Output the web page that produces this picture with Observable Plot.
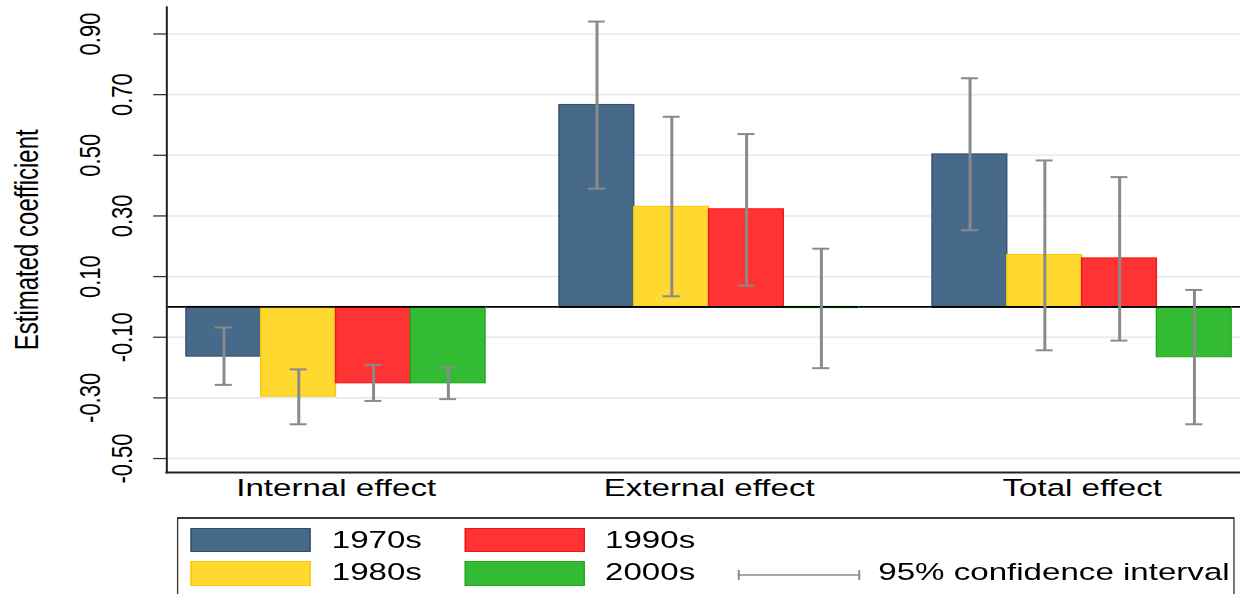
<!DOCTYPE html>
<html>
<head>
<meta charset="utf-8">
<script src="https://cdn.jsdelivr.net/npm/d3@7"></script>
<script src="https://cdn.jsdelivr.net/npm/@observablehq/plot@0.6"></script>
<style>
  html, body { margin: 0; padding: 0; background: #fff; overflow: hidden; width: 1240px; height: 594px; }
  #wrap { position: absolute; left: 0; top: 0; width: 918px; height: 594px;
          transform: scaleX(1.3508); transform-origin: 0 0;
          font-family: "Liberation Sans", Arial, sans-serif; color: #000; }
  #chart { position: relative; width: 918px; height: 510px; }
  #chart svg { display: block; position: absolute; left: 0; top: 0; }
  .lg-box { position: absolute; left: 130.8px; top: 517.3px; width: 783.4px; height: 100px;
            box-sizing: border-box; border: 1.5px solid #3a3a3a; border-top-width: 2px; }
  .lg-sw { position: absolute; box-sizing: border-box; border: 1px solid; }
  .lg-tx { position: absolute; font-size: 24.5px; line-height: 24.5px; height: 24.5px; white-space: nowrap; }
</style>
</head>
<body>
<div id="wrap">
  <div id="chart"></div>
  <div id="legend"></div>
</div>
<script>
// ---------------- data ----------------
const effects = ["Internal effect", "External effect", "Total effect"];
const decades = ["1970s", "1980s", "1990s", "2000s"];
const colors  = ["#486A8A", "#FFD830", "#FF3333", "#33BB33"];
const outlines = ["#2F4F70", "#F5C800", "#F51515", "#22A622"];

const coefInternal = [-0.164, -0.296, -0.252, -0.252];
const coefExternal = [0.666, 0.330, 0.322, -0.004];
const coefTotal    = [0.503, 0.171, 0.160, -0.166];

const ciLowInternal  = [-0.257, -0.387, -0.310, -0.304];
const ciHighInternal = [-0.068, -0.206, -0.191, -0.201];
const ciLowExternal  = [0.390, 0.035, 0.070, -0.202];
const ciHighExternal = [0.941, 0.627, 0.570, 0.192];
const ciLowTotal     = [0.253, -0.143, -0.111, -0.387];
const ciHighTotal    = [0.754, 0.483, 0.428, 0.056];

const yTicks      = [-0.5, -0.3, -0.1, 0.1, 0.3, 0.5, 0.7, 0.9];
const yTickLabels = ["-0.50", "-0.30", "-0.10", "0.10", "0.30", "0.50", "0.70", "0.90"];
const yTitle = "Estimated coefficient";
const ciLabel = "95% confidence interval";

// ---------------- table ----------------
const coefs = [coefInternal, coefExternal, coefTotal];
const lows  = [ciLowInternal, ciLowExternal, ciLowTotal];
const highs = [ciHighInternal, ciHighExternal, ciHighTotal];
const rows = [];
effects.forEach((e, gi) => decades.forEach((d, di) => rows.push({
  effect: e, decade: d, coef: coefs[gi][di], lo: lows[gi][di], hi: highs[gi][di]
})));

const W = 918, H = 510;
const ciColor = "#8A8A8A";
const font = "'Liberation Sans', Arial, sans-serif";
const common = {
  width: W, height: H, marginLeft: 123, marginRight: 0, marginTop: 6.5, marginBottom: 38
};
const groupBand = { domain: effects, paddingInner: 0.198, paddingOuter: 0.0384, align: 0.69, round: false };
const yScale = { domain: [-0.546, 0.989], axis: null };

// background layer: grid, axes, labels
const back = Plot.plot({
  ...common,
  style: { fontFamily: font, background: "white", color: "black", overflow: "visible" },
  x: { type: "band", ...groupBand, axis: null },
  y: yScale,
  marks: [
    Plot.ruleY(yTicks, { stroke: "#E3EAF0", strokeWidth: 1.6 }),
    Plot.ruleY([0], { stroke: "black", strokeWidth: 1.6 }),
    Plot.axisY(yTicks, { anchor: "left", tickSize: 9.6, tickFormat: () => "", stroke: "#333", strokeWidth: 1.3 }),
    Plot.frame({ anchor: "left", stroke: "#222", strokeWidth: 1.5 }),
    Plot.frame({ anchor: "bottom", stroke: "#222", strokeWidth: 2 }),
    Plot.text(yTicks, { filter: (d, i) => i % 2 === 1, y: d => d, text: d => yTickLabels[yTicks.indexOf(d)],
      frameAnchor: "left", textAnchor: "middle", dx: -56.4, rotate: -90, fontSize: 22, fill: "black" }),
    Plot.text(yTicks, { filter: (d, i) => i % 2 === 0, y: d => d, text: d => yTickLabels[yTicks.indexOf(d)],
      frameAnchor: "left", textAnchor: "middle", dx: -32.7, rotate: -90, fontSize: 22, fill: "black" }),
    Plot.text([yTitle], { frameAnchor: "left", textAnchor: "middle", dx: -103, rotate: -90, fontSize: 24, fill: "black" }),
    Plot.text(effects, { x: d => d, text: d => d, frameAnchor: "bottom", lineAnchor: "top", dy: 6.3, fontSize: 24.5, fill: "black" })
  ]
});

// foreground layer: bars and confidence intervals, faceted by effect
const barMarks = decades.map((d, i) => Plot.barY(rows.filter(r => r.decade === d), {
  fx: "effect", x: "decade", y1: 0, y2: "coef",
  fill: colors[i], stroke: outlines[i], strokeWidth: 1
}));
const front = Plot.plot({
  ...common,
  style: { fontFamily: font, background: "transparent", overflow: "visible" },
  fx: { ...groupBand, axis: null, label: null },
  x: { domain: decades, padding: 0, round: false, axis: null },
  y: yScale,
  marks: [
    ...barMarks,
    Plot.ruleY([0], { stroke: "black", strokeWidth: 1.6 }),
    Plot.ruleX(rows, { fx: "effect", x: "decade", y1: "lo", y2: "hi", stroke: ciColor, strokeWidth: 2.2 }),
    Plot.tickY(rows, { fx: "effect", x: "decade", y: "lo", stroke: ciColor, strokeWidth: 2, insetLeft: 21.4, insetRight: 21.4 }),
    Plot.tickY(rows, { fx: "effect", x: "decade", y: "hi", stroke: ciColor, strokeWidth: 2, insetLeft: 21.4, insetRight: 21.4 })
  ]
});
const chartDiv = document.getElementById("chart");
chartDiv.appendChild(back);
chartDiv.appendChild(front);

// ---------------- legend ----------------
const legend = document.getElementById("legend");
const box = document.createElement("div");
box.className = "lg-box";
legend.appendChild(box);

const swLeft = [140.7, 343.5], txLeft = [245.6, 447.9];
const swTop = [527.7, 561], txCenter = [540, 572];
decades.forEach((d, i) => {
  const col = Math.floor(i / 2), row = i % 2;
  const sw = document.createElement("div");
  sw.className = "lg-sw";
  Object.assign(sw.style, { left: swLeft[col] + "px", top: swTop[row] + "px", width: "89.5px", height: "24.8px",
    background: colors[i], borderColor: outlines[i] });
  legend.appendChild(sw);
  const tx = document.createElement("div");
  tx.className = "lg-tx";
  tx.textContent = d;
  Object.assign(tx.style, { left: txLeft[col] + "px", top: (txCenter[row] - 12.25) + "px" });
  legend.appendChild(tx);
});
// CI sample
const ns = "http://www.w3.org/2000/svg";
const ci = document.createElementNS(ns, "svg");
ci.setAttribute("width", "91"); ci.setAttribute("height", "14");
Object.assign(ci.style, { position: "absolute", left: "546.2px", top: "568px" });
[["0", "7", "91", "7"], ["0.8", "2", "0.8", "12"], ["90.2", "2", "90.2", "12"]].forEach(([x1, y1, x2, y2]) => {
  const l = document.createElementNS(ns, "line");
  l.setAttribute("x1", x1); l.setAttribute("y1", y1); l.setAttribute("x2", x2); l.setAttribute("y2", y2);
  l.setAttribute("stroke", ciColor); l.setAttribute("stroke-width", "1.6");
  ci.appendChild(l);
});
legend.appendChild(ci);
const cit = document.createElement("div");
cit.className = "lg-tx";
cit.textContent = ciLabel;
Object.assign(cit.style, { left: "650.2px", top: (572 - 12.25) + "px" });
legend.appendChild(cit);
</script>
</body>
</html>
